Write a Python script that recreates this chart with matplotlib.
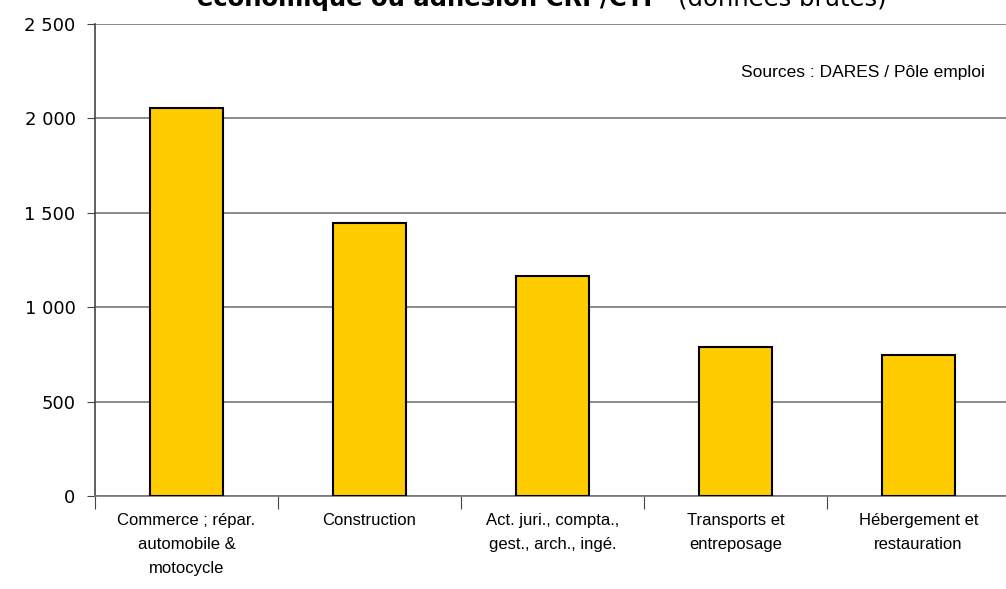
import matplotlib.pyplot as plt
import numpy as np

# categories and values
categories = ['Commerce ; répar.\nautomobile &\nmotocycle', 'Construction',
              'Act. juri., compta.,\ngest., arch., ingé.', 'Transports et\nentreposage',
              'Hébergement et\nrestauration']
values = [2055, 1448, 1165, 787, 745]
yticks = [0, 500, 1000, 1500, 2000, 2500]
ytick_labels = ['0', '500', '1 000', '1 500', '2 000', '2 500']

fig = plt.figure(figsize=(10.06, 5.89), dpi=100)
ax = fig.add_axes([95/1006, 1-496/589, 915/1006, 472/589])

x = np.arange(len(categories))
ax.bar(x, values, width=0.4, color='#FFCC00', edgecolor='black', linewidth=1.5, zorder=3)

ax.set_xlim(-0.5, len(categories)-0.5)
ax.set_ylim(0, 2500)

#horizontal grid
ax.set_yticks(yticks)
ax.set_yticklabels(ytick_labels, fontsize=13, family='DejaVu Sans')
ax.yaxis.grid(True, color='#777777', linewidth=1.2, zorder=0)
ax.tick_params(axis='y', length=6, color='#444444', pad=8)

#category labels between boundary ticks
ax.set_xticks(np.arange(len(categories)+1) - 0.5)
ax.set_xticklabels([])
ax.set_xticks(x, minor=True)
ax.set_xticklabels(categories, minor=True, fontsize=12, family='Liberation Sans', linespacing=1.75)
ax.tick_params(axis='x', which='major', length=9, color='#444444')
ax.tick_params(axis='x', which='minor', length=0, pad=12)

for s in ['top', 'right']:
    ax.spines[s].set_visible(False)
ax.spines['left'].set_color('#444444')
ax.spines['left'].set_linewidth(1.2)
ax.spines['bottom'].set_color('#777777')
ax.spines['bottom'].set_linewidth(1.2)

#source note
fig.text(985/1006, 1-73/589, 'Sources : DARES / Pôle emploi', ha='right', va='center',
         fontsize=12.5, family='Liberation Sans')

#title (cut off at top in the original)
fig.text(197/1006, 1-6/589, 'économique ou adhésion CRP/CTP', ha='left', va='baseline',
         fontsize=17.5, fontweight='bold', family='DejaVu Sans')
fig.text(678/1006, 1-6/589, '(données brutes)', ha='left', va='baseline',
         fontsize=17.5, family='DejaVu Sans')

fig.savefig('out.png', dpi=100)
